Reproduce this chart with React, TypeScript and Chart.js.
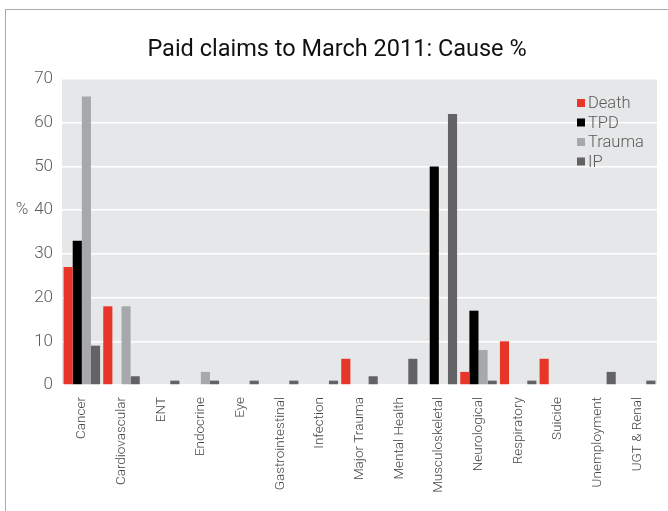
import React, { useEffect, useRef } from "react";
import { Chart, registerables } from "chart.js";

Chart.register(...registerables);

const categories = [
  "Cancer", "Cardiovascular", "ENT", "Endocrine", "Eye", "Gastrointestinal", "Infection",
  "Major Trauma", "Mental Health", "Musculoskeletal", "Neurological", "Respiratory",
  "Suicide", "Unemployment", "UGT & Renal",
];
const deathValues = [27, 18, 0, 0, 0, 0, 0, 6, 0, 0, 3, 10, 6, 0, 0];
const tpdValues = [33, 0, 0, 0, 0, 0, 0, 0, 0, 50, 17, 0, 0, 0, 0];
const traumaValues = [66, 18, 0, 3, 0, 0, 0, 0, 0, 0, 8, 0, 0, 0, 0];
const ipValues = [9, 2, 1, 1, 1, 1, 1, 2, 6, 62, 1, 1, 0, 3, 1];
const seriesNames = ["Death", "TPD", "Trauma", "IP"];
const seriesColors = ["#e8352a", "#000000", "#a7a8ab", "#636365"];
const titleText = "Paid claims to March 2011: Cause %";

const FONT = "Roboto, 'Liberation Sans', sans-serif";

const decorPlugin = {
  id: "decor",
  beforeDraw(chart: any) {
    const { ctx, chartArea } = chart;
    ctx.save();
    ctx.fillStyle = "#e6e7e8";
    ctx.fillRect(chartArea.left, chartArea.top, chartArea.right - chartArea.left, chartArea.bottom - chartArea.top);
    ctx.restore();
  },
  afterDraw(chart: any) {
    const { ctx } = chart;
    ctx.save();
    // title
    ctx.fillStyle = "#111";
    ctx.font = `400 23.5px ${FONT}`;
    ctx.textAlign = "center";
    ctx.textBaseline = "middle";
    ctx.fillText(titleText, 337, 50);
    // % axis label
    const y = chart.scales.y;
    ctx.fillStyle = "#5a5a5a";
    ctx.font = `300 17px ${FONT}`;
    ctx.textAlign = "center";
    ctx.fillText("%", 22, y.getPixelForValue(40));
    // legend
    const lx = 577;
    const ly = 103;
    ctx.font = `300 16.5px ${FONT}`;
    ctx.textAlign = "left";
    seriesNames.forEach((n, i) => {
      const cy = ly + i * 19.5;
      ctx.fillStyle = seriesColors[i];
      ctx.fillRect(lx, cy - 4, 8, 8);
      ctx.fillStyle = "#5a5a5a";
      ctx.fillText(n, lx + 11, cy + 1);
    });
    ctx.restore();
  },
};

export default function App() {
  const ref = useRef<HTMLCanvasElement>(null);
  useEffect(() => {
    if (!ref.current) return;
    const datasets = [deathValues, tpdValues, traumaValues, ipValues].map((d, i) => ({
      label: seriesNames[i],
      data: d,
      backgroundColor: seriesColors[i],
      borderWidth: 0,
      categoryPercentage: 0.92,
      barPercentage: 1,
    }));
    const chart = new Chart(ref.current, {
      type: "bar",
      data: { labels: categories, datasets },
      plugins: [decorPlugin],
      options: {
        animation: false,
        responsive: false,
        maintainAspectRatio: false,
        layout: { padding: { top: 79, right: 11, left: 0, bottom: 0 } },
        plugins: {
          legend: { display: false },
          title: { display: false },
          tooltip: { enabled: false },
        },
        scales: {
          x: {
            grid: { display: false },
            border: { display: false },
            ticks: {
              color: "#444",
              font: { family: FONT, size: 13.5, weight: "300" },
              minRotation: 90,
              maxRotation: 90,
              padding: 4,
              autoSkip: false,
            },
            afterFit: (s: any) => { s.height = 126; },
          },
          y: {
            min: 0,
            max: 70,
            grid: { color: "#ffffff", lineWidth: 1.5, drawTicks: false },
            border: { display: false },
            ticks: {
              stepSize: 10,
              color: "#5a5a5a",
              font: { family: FONT, size: 17, weight: "300" },
              padding: 9,
            },
            afterFit: (s: any) => { s.width = 62; },
          },
        },
      },
    });
    return () => chart.destroy();
  }, []);
  return (
    <div style={{ position: "fixed", left: 0, top: 0, width: 668, height: 511, background: "#fff" }}>
      <div
        style={{
          position: "absolute",
          left: 5,
          top: 9,
          right: -10,
          bottom: -10,
          borderLeft: "1.5px solid #aaa",
          borderTop: "1.5px solid #aaa",
        }}
      />
      <canvas ref={ref} width={668} height={511} style={{ position: "absolute", left: 0, top: 0 }} />
    </div>
  );
}
